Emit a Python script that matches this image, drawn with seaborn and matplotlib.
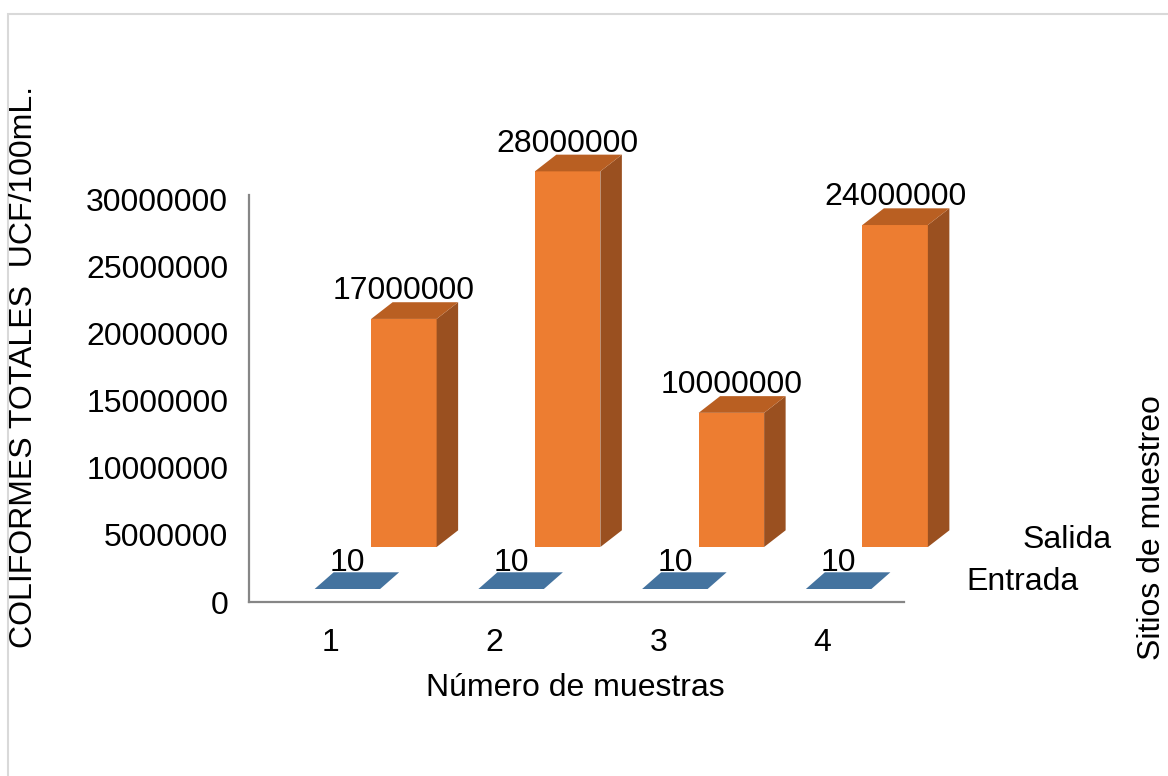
import matplotlib
matplotlib.use("Agg")
import matplotlib.pyplot as plt
from matplotlib.patches import Polygon, Rectangle
from matplotlib.transforms import ScaledTranslation
from matplotlib.ticker import MultipleLocator, FuncFormatter
import numpy as np
import pandas as pd
import seaborn as sns

# data
muestras = ["1", "2", "3", "4"]
entrada = [10, 10, 10, 10]
salida = [17000000, 28000000, 10000000, 24000000]
sitios = ["Entrada", "Salida"]

BLUE = "#44739f"
ORANGE = "#ed7d31"
ORANGE_TOP = "#b95f22"
ORANGE_SIDE = "#9a5020"
SPINE = "#868686"
FS = 23

sns.set_theme(style="white")
plt.rcParams["font.family"] = ["Liberation Sans", "DejaVu Sans"]
plt.rcParams["text.color"] = "black"

W, H = 1168, 776
fig = plt.figure(figsize=(W / 100, H / 100), dpi=100)
# axes box in pixels: x 249..904, y-axis line 602 (bottom) up to 195
ax = fig.add_axes([249 / W, 174 / H, 655 / W, 406.5 / H])

df_e = pd.DataFrame({"muestra": muestras, "valor": entrada})
df_s = pd.DataFrame({"muestra": muestras, "valor": salida})
sns.barplot(data=df_e, x="muestra", y="valor", color=BLUE, width=0.4,
            saturation=1, ax=ax, errorbar=None)
n_e = len(ax.patches)
sns.barplot(data=df_s, x="muestra", y="valor", color=ORANGE, width=0.4,
            saturation=1, ax=ax, errorbar=None)
bars_e = ax.patches[:n_e]
bars_s = ax.patches[n_e:]

ax.set_xlim(-0.5, 3.5)
ax.set_ylim(0, 30.3e6)
ax.yaxis.set_major_locator(MultipleLocator(5e6))
ax.yaxis.set_major_formatter(FuncFormatter(lambda v, p: f"{int(v)}" if v <= 30e6 else ""))

# pseudo 3D: row offsets (pixels, right/up) and bar depth for each series
rows = {
    "Entrada": dict(bars=bars_e, row=(16.5, 13.0), depth=(19.0, 16.7), color=BLUE,
                    top=BLUE, side=BLUE, labels=entrada, ldy=1.0),
    "Salida": dict(bars=bars_s, row=(73.0, 55.0), depth=(21.5, 16.7), color=ORANGE,
                   top=ORANGE_TOP, side=ORANGE_SIDE, labels=salida, ldy=3.0),
}

to_disp = ax.transData
to_data = ax.transData.inverted()
for name, r in rows.items():
    dx, dy = r["row"]
    ddx, ddy = r["depth"]
    for bar, val in zip(r["bars"], r["labels"]):
        bar.set_transform(ax.transData + ScaledTranslation(dx / 100, dy / 100, fig.dpi_scale_trans))
        bar.set_clip_on(False)
        bar.set_edgecolor("none")
        x0, y0 = bar.get_x(), bar.get_y()
        x1, y1 = x0 + bar.get_width(), y0 + bar.get_height()
        (px0, py0), (px1, py1) = to_disp.transform([(x0, y0), (x1, y1)])
        px0 += dx; px1 += dx; py0 += dy; py1 += dy
        top = [(px0, py1), (px1, py1), (px1 + ddx, py1 + ddy), (px0 + ddx, py1 + ddy)]
        side = [(px1, py0), (px1 + ddx, py0 + ddy), (px1 + ddx, py1 + ddy), (px1, py1)]
        if py1 - py0 > 1:
            ax.add_patch(Polygon(to_data.transform(side), closed=True, facecolor=r["side"],
                                 edgecolor="none", clip_on=False))
        ax.add_patch(Polygon(to_data.transform(top), closed=True, facecolor=r["top"],
                             edgecolor="none", clip_on=False))
        ax.annotate(f"{val}", xy=((x0 + x1) / 2, y1), xytext=(dx * 0.72, (dy + ddy + r["ldy"]) * 0.72),
                    textcoords="offset points", ha="center", va="baseline", fontsize=FS,
                    color="black", annotation_clip=False)

sns.despine(ax=ax)
for s in ("left", "bottom"):
    ax.spines[s].set_color(SPINE)
    ax.spines[s].set_linewidth(1.6)
ax.tick_params(axis="both", length=0, labelsize=FS, colors="black")
ax.tick_params(axis="y", pad=15)
ax.tick_params(axis="x", pad=19)
ax.set_xlabel("")
ax.set_ylabel("")
ax.grid(False)

# depth axis labels, positioned from the x-axis end plus row offsets
xend, yend = to_disp.transform((3.5, 0))
for name in sitios:
    dx, dy = rows[name]["row"]
    fx, fy = fig.transFigure.inverted().transform((xend + dx + 46, yend + dy + 7))
    fig.text(fx, fy, name, ha="left", va="center", fontsize=FS, color="black")

fig.text(575 / W, 1 - 688 / H, "Número de muestras", ha="center", va="center",
         fontsize=FS, color="black")
fig.text(24 / W, 1 - 367 / H, "COLIFORMES TOTALES  UCF/100mL.", rotation=90,
         ha="center", va="center", fontsize=FS, color="black")
fig.text(1152 / W, 1 - 528 / H, "Sitios de muestreo", rotation=90,
         ha="center", va="center", fontsize=FS, color="black")

# light outer frame (top and left edges visible)
fig.patches.append(Rectangle((8 / W, -0.1), 1.2, 1.1 - 14 / H, transform=fig.transFigure,
                             fill=False, edgecolor="#d9d9d9", linewidth=1.5))

fig.savefig("out.png", dpi=100)
